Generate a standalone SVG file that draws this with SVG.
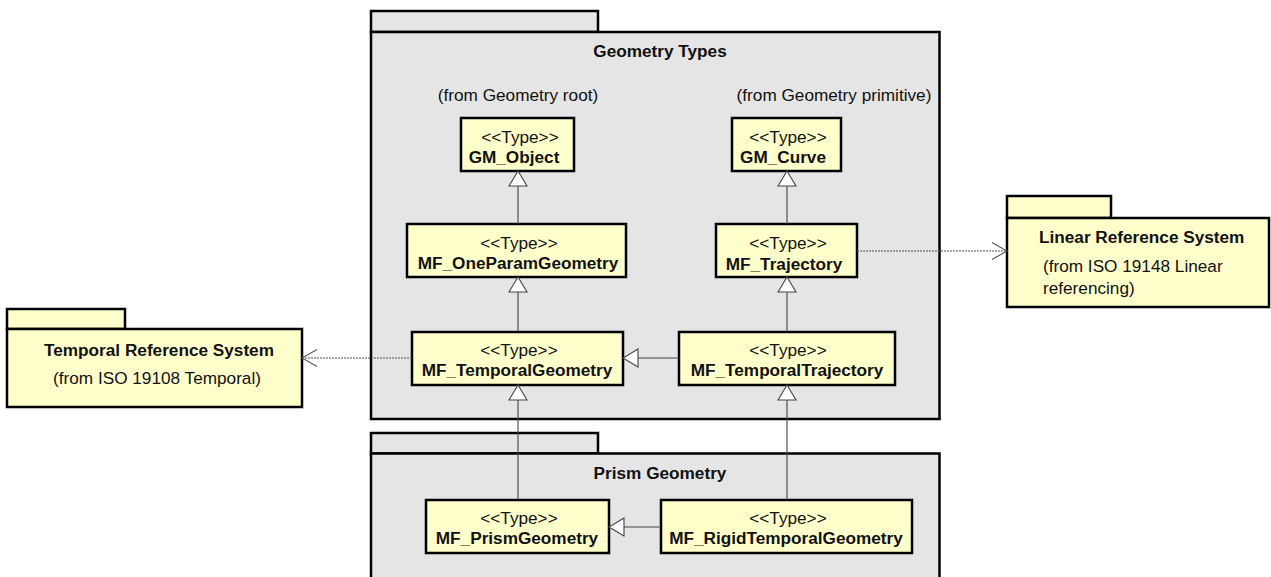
<svg xmlns="http://www.w3.org/2000/svg" width="1271" height="577" viewBox="0 0 1271 577">
<defs>
<style>
.pkg{fill:#e5e5e5;stroke:#000;stroke-width:2.5}
.ext{fill:#ffffcc;stroke:#000;stroke-width:2.5}
.node{fill:#ffffcc;stroke:#000;stroke-width:2.5}
.t{font-family:"Liberation Sans",Arial,sans-serif;font-size:17.2px;fill:#111}
.b{font-weight:bold}
.m{text-anchor:middle}
.gen{fill:none;stroke:#444;stroke-width:1.1;marker-end:url(#tri)}
.dep{fill:none;stroke:#555;stroke-width:1.1;stroke-dasharray:2 1;marker-end:url(#open)}
</style>
<marker id="tri" viewBox="-1 -1 17 20" refX="15" refY="9" markerWidth="17" markerHeight="20" markerUnits="userSpaceOnUse" orient="auto">
<path d="M0,0 L15,9 L0,18 Z" fill="#fff" stroke="#444" stroke-width="1.1"/>
</marker>
<marker id="open" viewBox="-1 -1 17 19" refX="15" refY="8.5" markerWidth="17" markerHeight="19" markerUnits="userSpaceOnUse" orient="auto">
<path d="M0,0 L15,8.5 L0,17" fill="none" stroke="#555" stroke-width="1.1"/>
</marker>
</defs>
<rect width="1271" height="577" fill="#fff"/>

<g id="pkg-geometry-types">
<rect class="pkg" x="371" y="11" width="227" height="21"/>
<rect class="pkg" x="371" y="32" width="568.5" height="387"/>
<text class="t b m" x="660" y="57">Geometry Types</text>
<text class="t m" x="518" y="101">(from Geometry root)</text>
<text class="t m" x="834" y="101">(from Geometry primitive)</text>
</g>

<g id="pkg-prism-geometry">
<rect class="pkg" x="371" y="433" width="227" height="20.5"/>
<rect class="pkg" x="371" y="453.5" width="568.5" height="130"/>
<text class="t b m" x="660" y="479">Prism Geometry</text>
</g>

<g id="pkg-temporal-reference-system">
<rect class="ext" x="7" y="309" width="118" height="20"/>
<rect class="ext" x="7" y="329" width="295" height="78"/>
<text class="t b m" x="159" y="356">Temporal Reference System</text>
<text class="t m" x="157" y="384">(from ISO 19108 Temporal)</text>
</g>

<g id="pkg-linear-reference-system">
<rect class="ext" x="1007" y="196" width="104" height="22"/>
<rect class="ext" x="1007" y="218" width="262" height="89"/>
<text class="t b" x="1039" y="243">Linear Reference System</text>
<text class="t" x="1043" y="272">(from ISO 19148 Linear</text>
<text class="t" x="1043" y="294">referencing)</text>
</g>

<g id="GM_Object">
<rect class="node" x="461" y="118" width="113" height="53"/>
<text class="t m" x="520" y="143">&lt;&lt;Type&gt;&gt;</text>
<text class="t b m" x="514" y="163">GM_Object</text>
</g>

<g id="GM_Curve">
<rect class="node" x="732" y="118" width="109" height="53"/>
<text class="t m" x="788" y="143">&lt;&lt;Type&gt;&gt;</text>
<text class="t b m" x="783" y="163">GM_Curve</text>
</g>

<g id="MF_OneParamGeometry">
<rect class="node" x="407" y="224" width="219" height="53"/>
<text class="t m" x="519" y="249">&lt;&lt;Type&gt;&gt;</text>
<text class="t b m" x="518" y="269">MF_OneParamGeometry</text>
</g>

<g id="MF_Trajectory">
<rect class="node" x="716" y="224" width="141" height="53"/>
<text class="t m" x="788" y="249">&lt;&lt;Type&gt;&gt;</text>
<text class="t b m" x="784" y="270">MF_Trajectory</text>
</g>

<g id="MF_TemporalGeometry">
<rect class="node" x="412" y="332" width="211" height="53"/>
<text class="t m" x="519" y="356">&lt;&lt;Type&gt;&gt;</text>
<text class="t b m" x="517" y="376">MF_TemporalGeometry</text>
</g>

<g id="MF_TemporalTrajectory">
<rect class="node" x="679" y="332" width="216" height="53"/>
<text class="t m" x="788" y="356">&lt;&lt;Type&gt;&gt;</text>
<text class="t b m" x="787" y="376">MF_TemporalTrajectory</text>
</g>

<g id="MF_PrismGeometry">
<rect class="node" x="426" y="500" width="183" height="53"/>
<text class="t m" x="519" y="524">&lt;&lt;Type&gt;&gt;</text>
<text class="t b m" x="517" y="544">MF_PrismGeometry</text>
</g>

<g id="MF_RigidTemporalGeometry">
<rect class="node" x="661" y="500" width="251" height="53"/>
<text class="t m" x="788" y="524">&lt;&lt;Type&gt;&gt;</text>
<text class="t b m" x="786" y="544">MF_RigidTemporalGeometry</text>
</g>

<g id="connectors">
<path class="gen" d="M518,224 L518,171"/>
<path class="gen" d="M787,224 L787,171"/>
<path class="gen" d="M518,332 L518,277"/>
<path class="gen" d="M787,332 L787,277"/>
<path class="gen" d="M679,358 L623,358"/>
<path class="gen" d="M518,500 L518,385"/>
<path class="gen" d="M787,500 L787,385"/>
<path class="gen" d="M661,527 L609,527"/>
<path class="dep" d="M412,358 L302,358"/>
<path class="dep" d="M857,251 L1007,251"/>
</g>
</svg>
